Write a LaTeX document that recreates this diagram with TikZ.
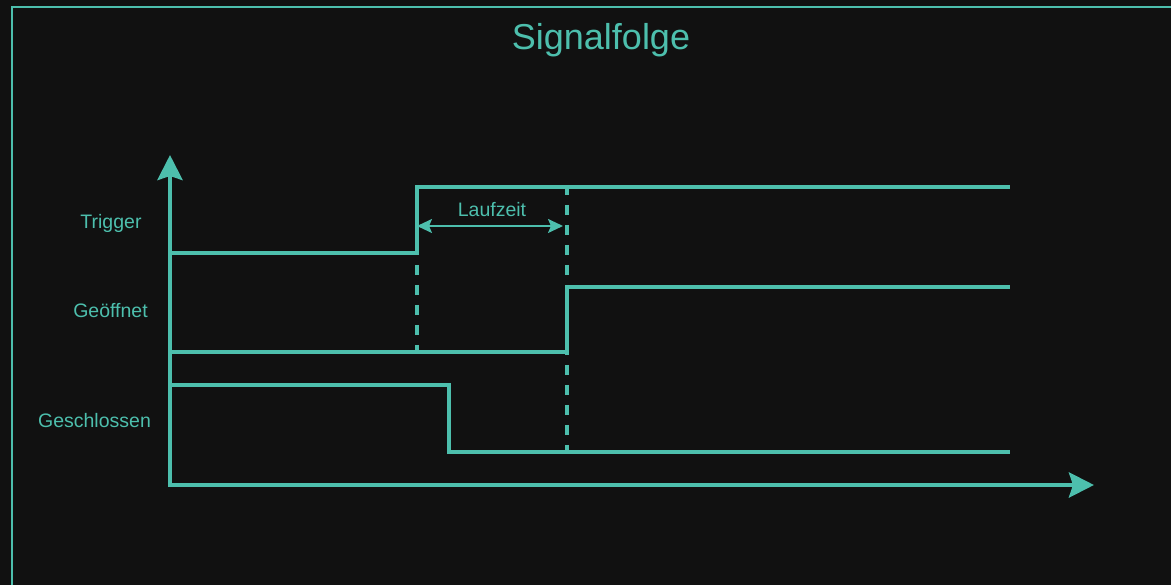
\documentclass[tikz,border=0pt]{standalone}
\usepackage{fontspec}
\setmainfont{Liberation Sans}
\usetikzlibrary{arrows.meta}
\definecolor{teal1}{HTML}{4DBFAD}
\definecolor{bg}{HTML}{111111}
\begin{document}
\begin{tikzpicture}[x=1pt,y=-1pt,
  axis/.style={draw=teal1,line width=4.5pt,-{Stealth[length=25pt,width=25pt,inset=4pt]}},
  signal/.style={draw=teal1,line width=3.3pt,line join=miter},
  marker/.style={draw=teal1,line width=3.3pt,dash pattern=on 10pt off 10pt},
  span/.style={draw=teal1,line width=2pt,{Stealth[length=15pt,width=14pt,inset=3pt]}-{Stealth[length=15pt,width=14pt,inset=3pt]}},
  lbl/.style={text=teal1,font=\fontsize{19.5}{22}\selectfont,anchor=base,inner sep=0pt}]
\useasboundingbox (0,0) rectangle (1171,585);
\fill[bg] (0,0) rectangle (1171,585);
\draw[teal1,line width=1.3pt] (12,7) rectangle (1190,600);
\node[text=teal1,font=\fontsize{36}{40}\selectfont,anchor=base,inner sep=0pt] (title) at (601,50) {Signalfolge};
% axes
\coordinate (O) at (170,485);
\coordinate (ytip) at (170,155);
\coordinate (xtip) at (1094,485);
\draw[axis] (170,487) -- (ytip);
\draw[axis] (168,485) -- (xtip);
% signals
\coordinate (t0) at (171,253);
\coordinate (t1) at (417,253);
\coordinate (t2) at (417,187);
\coordinate (t3) at (1010,187);
\draw[signal] (t0) -- (t1) -- (t2) -- (t3);
\coordinate (g0) at (171,352);
\coordinate (g1) at (567,352);
\coordinate (g2) at (567,287);
\coordinate (g3) at (1010,287);
\draw[signal] (g0) -- (g1) -- (g2) -- (g3);
\coordinate (s0) at (171,385);
\coordinate (s1) at (449,385);
\coordinate (s2) at (449,452);
\coordinate (s3) at (1010,452);
\draw[signal] (s0) -- (s1) -- (s2) -- (s3);
% markers
\coordinate (m1a) at (417,185);
\coordinate (m1b) at (417,352);
\coordinate (m2a) at (567,185);
\coordinate (m2b) at (567,452);
\draw[marker] (m1a) -- (m1b);
\draw[marker] (m2a) -- (m2b);
% Laufzeit
\coordinate (la) at (417,226);
\coordinate (lb) at (563,226);
\draw[span] (la) -- (lb);
\node[lbl] (lauf) at (492,217) {Laufzeit};
% labels
\node[lbl] (trig) at (111,229) {Trigger};
\node[lbl] (geoe) at (110.5,318) {Geöffnet};
\node[lbl] (gesc) at (94.5,428) {Geschlossen};
\end{tikzpicture}
\end{document}
